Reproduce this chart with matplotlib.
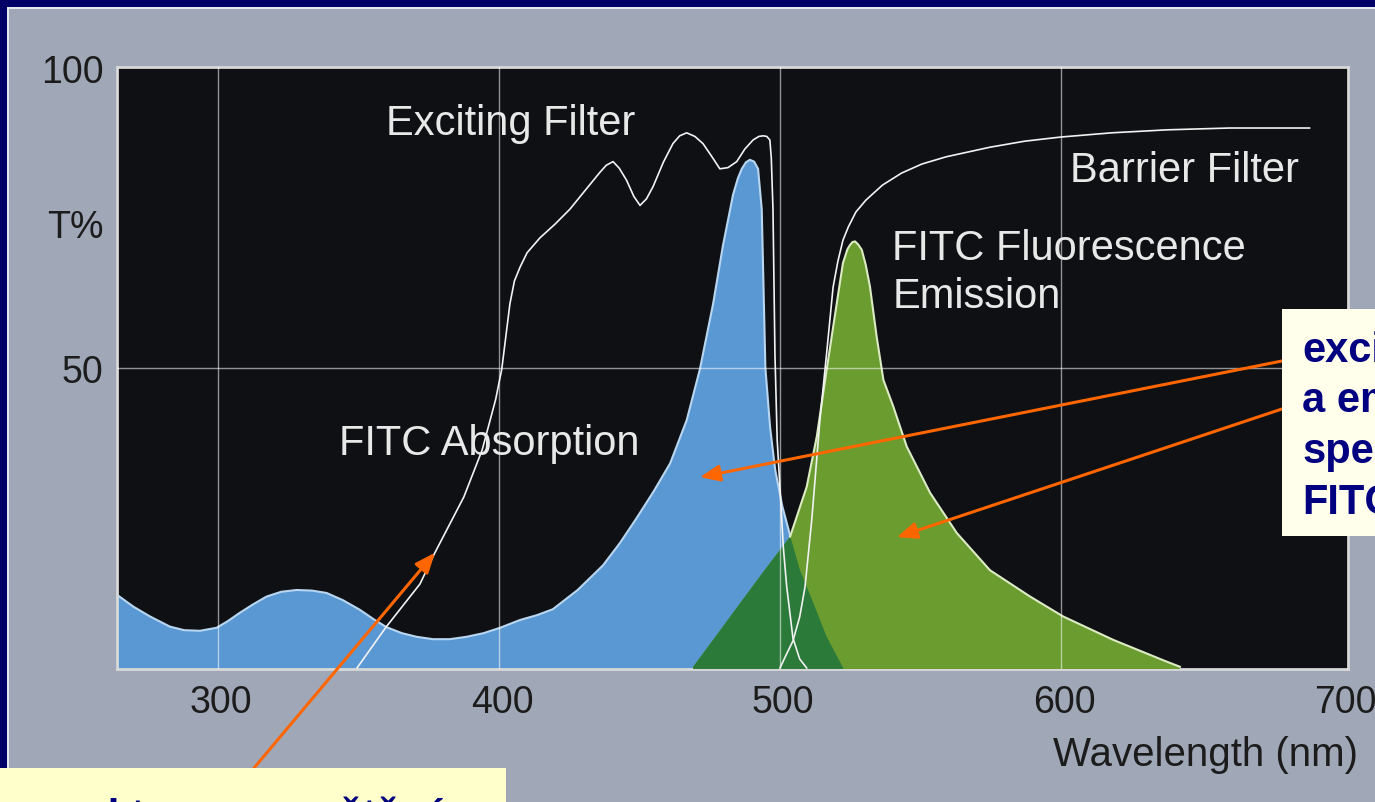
import numpy as np
import matplotlib.pyplot as plt
from matplotlib.patches import Rectangle
from matplotlib.transforms import blended_transform_factory, offset_copy

plt.rcParams['font.family'] = ['Liberation Sans', 'DejaVu Sans']

W, H = 1375, 802

# Exciting filter transmission (nm, T%)
exc_nm = [349.5, 359.8, 371.9, 377.2, 387.5, 394.0, 398.8, 401.0, 403.9, 405.5, 407.5, 410.0,
          414.6, 420.0, 425.3, 430.5, 435.9, 438.2, 440.6, 442.8, 445.4, 448.0, 450.2, 452.5,
          454.8, 458.5, 461.9, 464.3, 466.8, 469.7, 472.6, 475.8, 478.6, 481.5, 484.6, 487.5,
          490.4, 492.5, 494.0, 495.3, 496.4, 496.9, 497.5, 498.2, 499.0, 500.0, 501.2, 502.4,
          504.6, 507.0, 509.5]
exc_T = [0.0, 6.8, 14.0, 19.2, 28.5, 36.3, 44.7, 49.8, 60.7, 64.5, 66.8, 69.2,
         71.7, 74.0, 76.5, 79.5, 82.6, 83.8, 84.4, 83.3, 81.3, 78.6, 77.1, 78.2,
         80.2, 84.3, 87.4, 88.7, 89.2, 88.6, 87.4, 85.2, 83.2, 83.4, 84.4, 86.5,
         88.0, 88.6, 88.7, 88.6, 88.0, 85.0, 76.5, 52.3, 38.0, 30.0, 20.0, 13.5,
         5.0, 1.5, 0.0]

# Barrier filter transmission
bar_nm = [500.0, 502.0, 504.6, 507.0, 508.9, 511.3, 514.2, 516.6, 518.9, 520.6, 522.4, 524.3,
          527.0, 530.6, 536.5, 543.3, 550.5, 559.1, 574.7, 587.0, 600.0, 618.0, 637.9, 660.0, 688.4]
bar_T = [0.0, 2.0, 4.5, 8.5, 13.5, 24.7, 41.3, 52.5, 63.5, 67.8, 71.3, 73.5,
         76.0, 78.0, 80.5, 82.5, 84.0, 85.2, 86.8, 87.8, 88.5, 89.2, 89.7, 90.0, 90.0]

# FITC absorption
abs_nm = [264.1, 270.0, 275.8, 282.9, 288.0, 293.6, 299.5, 303.5, 307.8, 312.5, 317.3, 322.5,
          328.0, 333.5, 338.7, 344.5, 350.5, 355.5, 360.0, 365.5, 370.7, 376.5, 382.5, 388.5,
          394.5, 400.4, 407.5, 413.5, 419.2, 428.0, 437.0, 443.0, 449.0, 455.0, 460.9, 466.8,
          471.5, 476.2, 479.7, 483.3, 485.0, 486.4, 487.9, 489.3, 490.8, 492.2, 493.5, 494.1,
          494.8, 496.5, 498.3, 500.8, 503.7, 507.1, 511.9, 516.6, 522.5]
abs_T = [12.2, 10.2, 8.6, 6.9, 6.3, 6.2, 6.7, 7.8, 9.2, 10.6, 11.9, 12.7,
         13.0, 12.9, 12.5, 11.3, 9.7, 8.1, 6.8, 5.8, 5.2, 4.8, 4.8, 5.2,
         5.8, 6.7, 8.0, 8.8, 9.8, 13.0, 17.1, 20.8, 25.0, 29.4, 34.1, 41.3,
         49.8, 60.7, 70.4, 78.9, 81.6, 83.2, 84.3, 84.7, 84.4, 83.2, 76.5, 64.3,
         50.0, 40.0, 33.0, 27.0, 21.9, 16.3, 10.8, 5.2, 0.0]

# FITC fluorescence emission
em_nm = [469.1, 477.0, 485.8, 494.5, 503.6, 509.5, 513.1, 516.6, 520.2, 522.4, 524.0, 524.9,
         525.8, 526.7, 527.8, 529.1, 530.5, 532.0, 534.4, 536.8, 540.3, 545.1, 553.4, 562.9,
         574.7, 589.0, 600.7, 618.5, 636.3, 642.3]
em_T = [0.2, 5.2, 10.8, 16.3, 21.9, 30.2, 38.6, 49.7, 60.8, 67.5, 69.8, 70.5,
        71.0, 71.1, 70.6, 69.7, 67.2, 63.6, 55.2, 48.0, 43.6, 36.9, 29.2, 22.5,
        16.3, 11.9, 8.6, 4.7, 1.3, 0.2]

x_ticks = [300, 400, 500, 600, 700]
y_ticks = [50, 100]
grid_x = [300, 400, 500, 600]
box_lines = ['excitační', 'a emisní', 'spektra', 'FITC']
bottom_note = 'spektra propouštěná'

c_bg = '#a0a8b8'
c_navy = '#000066'
c_black = '#0e1014'
c_blue = '#5a98d4'
c_green = '#6a9c30'
c_dkgreen = '#2b7a3a'
c_orange = '#ff6600'
c_txt = '#1c1c1c'


def fx(px):
    return px / W


def fy(py):
    return 1 - py / H


fig = plt.figure(figsize=(W / 100, H / 100), dpi=100)
fig.patch.set_facecolor(c_bg)

# slide frame (top and left)
fig.add_artist(Rectangle((0, fy(7)), 1, 7 / H, transform=fig.transFigure, color=c_navy, lw=0))
fig.add_artist(Rectangle((0, 0), 7 / W, 1, transform=fig.transFigure, color=c_navy, lw=0))
fig.add_artist(Rectangle((7 / W, fy(9)), 1, 2 / H, transform=fig.transFigure, color='#e6eaf0', lw=0))
fig.add_artist(Rectangle((7 / W, 0), 2 / W, fy(9), transform=fig.transFigure, color='#e6eaf0', lw=0))

ax = fig.add_axes([fx(117), fy(669), (1348 - 117) / W, (669 - 67) / H])
ax.set_facecolor(c_black)
ax.set_xlim(264.1, 702.1)
ax.set_ylim(-0.17, 100.17)
y0 = ax.get_ylim()[0]
ax.set_xticks([])
ax.set_yticks([])
for s in ax.spines.values():
    s.set_color('#d8d8d8')
    s.set_linewidth(2)

# filled spectra
bx = [abs_nm[0]] + abs_nm + [abs_nm[-1]]
by = [y0] + abs_T + [y0]
gx = [em_nm[0]] + em_nm + [em_nm[-1]]
gy = [y0] + em_T + [y0]
ax.fill(bx, by, color=c_blue, lw=0, zorder=2)
ax.plot(abs_nm, abs_T, color='#b8d6f0', lw=1.5, zorder=2.5)
green = ax.fill(gx, gy, color=c_green, lw=0, zorder=3)[0]
overlap = ax.fill(bx, by, color=c_dkgreen, lw=0, zorder=4)[0]
overlap.set_clip_path(green)
edge_from = em_nm.index(503.6)
ax.plot(em_nm[edge_from:], em_T[edge_from:], color='#dcebc4', lw=1.5, zorder=5)

# grid
for g in grid_x:
    ax.axvline(g, color='white', alpha=0.55, lw=1, zorder=6)
ax.axhline(50, color='white', alpha=0.55, lw=1, zorder=6)

# filter curves
ax.plot(exc_nm, exc_T, color='#f2f2f2', lw=1.2, zorder=7)
ax.plot(bar_nm, bar_T, color='#f2f2f2', lw=1.2, zorder=7)

# curve labels
lab = dict(color='#e8e8e8', fontsize=30, va='baseline', zorder=8)
ax.text(359.8, 88.8, 'Exciting Filter', **lab)
ax.text(603.2, 81.0, 'Barrier Filter', **lab)
ax.text(539.9, 68.0, 'FITC Fluorescence', **lab)
ax.text(539.9, 60.0, 'Emission', **lab)
ax.text(343.1, 35.5, 'FITC Absorption', **lab)

# tick labels
tx = offset_copy(blended_transform_factory(ax.transData, ax.transAxes), fig=fig,
                 x=3, y=-4, units='dots')
for t in x_ticks:
    ax.text(t, -0.05, str(t), transform=tx, ha='center', va='center', fontsize=27, color=c_txt)
ty = offset_copy(blended_transform_factory(ax.transAxes, ax.transData), fig=fig,
                 x=0, y=-5, units='dots')
for t in y_ticks:
    ax.text(-0.011, t, str(t), transform=ty, ha='right', va='center', fontsize=27, color=c_txt)
ax.text(-0.011, 74.2, 'T%', transform=ty, ha='right', va='center', fontsize=27, color=c_txt)
fig.text(fx(1358), fy(755), 'Wavelength (nm)', ha='right', va='center', fontsize=29, color=c_txt)

# callout boxes
fig.add_artist(Rectangle((fx(1282), fy(536)), 1, (536 - 309) / H, transform=fig.transFigure,
                         facecolor='#ffffec', lw=0, zorder=10))
for i, line in enumerate(box_lines):
    fig.text(fx(1302), fy(362 + 50.5 * i), line, fontsize=30, fontweight='bold',
             color='#000080', va='baseline', zorder=11)
fig.add_artist(Rectangle((0, 0), fx(506), fy(768), transform=fig.transFigure,
                         facecolor='#ffffcc', lw=0, zorder=10))
fig.text(fx(36), fy(829), bottom_note, fontsize=30, fontweight='bold',
         color='#000080', va='baseline', zorder=11)

# arrows
arrow = dict(arrowstyle='-|>,head_length=0.6,head_width=0.25', color=c_orange, lw=2.2,
             shrinkA=0, shrinkB=0, mutation_scale=20)
for start, tip in [((254, 768), (377.2, 19.2)),
                   ((1297, 358), (471.5, 31.8)),
                   ((1297, 404), (541.6, 21.8))]:
    ax.annotate('', xy=tip, xycoords='data', xytext=(fx(start[0]), fy(start[1])),
                textcoords='figure fraction', arrowprops=arrow, annotation_clip=False, zorder=12)

fig.savefig('out.png', dpi=100, facecolor=fig.get_facecolor())
